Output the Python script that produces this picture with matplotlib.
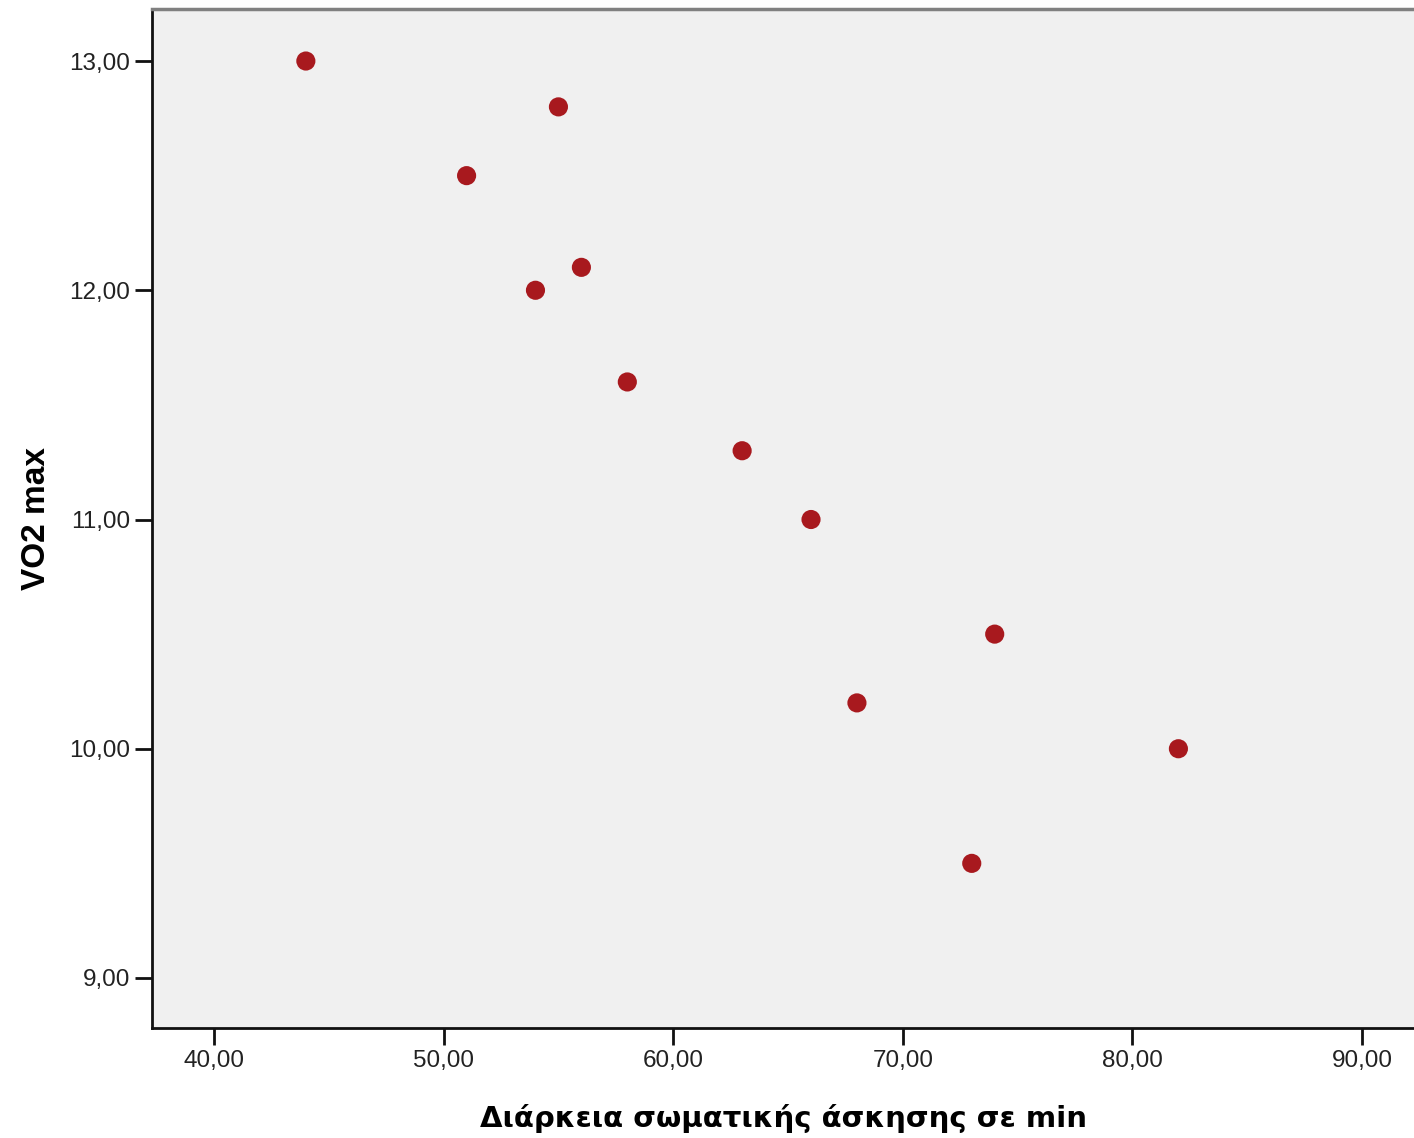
import matplotlib.pyplot as plt
from matplotlib.ticker import FuncFormatter

# Data
exercise_min = [44, 55, 51, 56, 54, 58, 63, 66, 74, 68, 82, 73]
vo2_max = [13.0, 12.8, 12.5, 12.1, 12.0, 11.6, 11.3, 11.0, 10.5, 10.2, 10.0, 9.5]
x_ticks = [40, 50, 60, 70, 80, 90]
y_ticks = [9, 10, 11, 12, 13]

fig = plt.figure(figsize=(14.14, 11.38), dpi=100)
ax = fig.add_axes([0.1075, 0.0967, 0.8925, 0.8954])
ax.set_facecolor('#f0f0f0')

ax.scatter(exercise_min, vo2_max, s=190, color='#a8191e', edgecolors='none', zorder=3)

ax.set_xlim(37.3, 92.26)
ax.set_ylim(8.782, 13.227)
ax.set_xticks(x_ticks)
ax.set_yticks(y_ticks)

# comma as decimal separator, like SPSS
comma = FuncFormatter(lambda v, p: f'{v:.2f}'.replace('.', ','))
ax.xaxis.set_major_formatter(comma)
ax.yaxis.set_major_formatter(comma)

ax.tick_params(direction='out', length=12, width=2, color='#111111',
               labelsize=17.5, labelcolor='#222222', pad=4)
for lab in ax.get_xticklabels() + ax.get_yticklabels():
    lab.set_family('Liberation Sans')

ax.spines['left'].set_linewidth(2)
ax.spines['bottom'].set_linewidth(2)
ax.spines['left'].set_color('#111111')
ax.spines['bottom'].set_color('#111111')
ax.spines['top'].set_color('#808080')
ax.spines['top'].set_linewidth(2.5)
ax.spines['right'].set_visible(False)

ax.set_xlabel('Διάρκεια σωματικής άσκησης σε min', fontsize=21,
              fontweight='bold', family='DejaVu Sans', labelpad=23)
ax.set_ylabel('VO2 max', fontsize=24, fontweight='bold',
              family='Liberation Sans', labelpad=12)

fig.savefig('out.png', dpi=100)
